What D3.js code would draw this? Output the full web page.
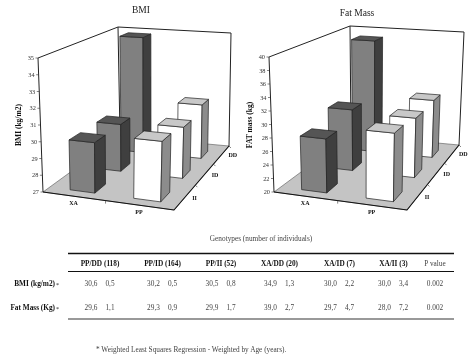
<!DOCTYPE html>
<html>
<head>
<meta charset="utf-8">
<script src="https://cdn.jsdelivr.net/npm/d3@7"></script>
<style>
  html, body { margin: 0; padding: 0; background: #fff; }
  svg { display: block; filter: blur(0.5px); font-family: "Liberation Serif", serif; }
</style>
</head>
<body>
<svg id="chart" width="474" height="358"></svg>
<script>
// Chart data
const columns = ["XA", "PP"];
const rows = ["II", "ID", "DD"];
const bmiXA = [30.0, 30.0, 34.9];
const bmiPP = [30.5, 30.2, 30.6];
const fatXA = [28.0, 29.7, 39.0];
const fatPP = [29.9, 29.3, 29.6];
const bmiTicks = [27, 28, 29, 30, 31, 32, 33, 34, 35];
const fatTicks = [20, 22, 24, 26, 28, 30, 32, 34, 36, 38, 40];

// Table data
const tableHeaders = ["PP/DD (118)", "PP/ID (164)", "PP/II (52)", "XA/DD (20)", "XA/ID (7)", "XA/II (3)"];
const tableRowNames = ["BMI (kg/m2)", "Fat Mass (Kg)"];
const bmiMeans = ["30,6", "30,2", "30,5", "34,9", "30,0", "30,0"];
const bmiErrors = ["0,5", "0,5", "0,8", "1,3", "2,2", "3,4"];
const fatMeans = ["29,6", "29,3", "29,9", "39,0", "29,7", "28,0"];
const fatErrors = ["1,1", "0,9", "1,7", "2,7", "4,7", "7,2"];
const pValues = ["0.002", "0.002"];

const svg = d3.select("#chart");

// Maps the unit square onto a quad: p00 (u0,v0), p10 (u1,v0), p11 (u1,v1), p01 (u0,v1)
function quadMap(p00, p10, p11, p01) {
    const dx1 = p10[0] - p11[0], dx2 = p01[0] - p11[0], sx = p00[0] - p10[0] + p11[0] - p01[0];
    const dy1 = p10[1] - p11[1], dy2 = p01[1] - p11[1], sy = p00[1] - p10[1] + p11[1] - p01[1];
    const det = dx1 * dy2 - dx2 * dy1;
    const g = (sx * dy2 - dx2 * sy) / det;
    const h = (dx1 * sy - sx * dy1) / det;
    const a = p10[0] - p00[0] + g * p10[0], b = p01[0] - p00[0] + h * p01[0], c = p00[0];
    const d = p10[1] - p00[1] + g * p10[1], e = p01[1] - p00[1] + h * p01[1], f = p00[1];
    return (u, v) => {
        const w = g * u + h * v + 1;
        return [(a * u + b * v + c) / w, (d * u + e * v + f) / w];
    };
}

function draw3d(cfg) {
    const g = svg.append("g");
    const floor = quadMap(cfg.floor[0], cfg.floor[1], cfg.floor[2], cfg.floor[3]);
    const roof = quadMap(cfg.roof[0], cfg.roof[1], cfg.roof[2], cfg.roof[3]);
    const yScale = d3.scaleLinear().domain(d3.extent(cfg.ticks)).range([0, 1]);

    // u across, v into the page, value up
    const project = (u, v, value) => {
        const a = floor(u, v), b = roof(u, v), t = yScale(value);
        return [a[0] + (b[0] - a[0]) * t, a[1] + (b[1] - a[1]) * t];
    };
    const base = cfg.ticks[0], top = cfg.ticks[cfg.ticks.length - 1];
    const line = d3.line();
    const poly = pts => line(pts) + "Z";

    // floor and walls
    g.append("path").attr("d", poly([project(0, 0, base), project(1, 0, base), project(1, 1, base), project(0, 1, base)]))
        .attr("fill", "#c4c4c4").attr("stroke", "#555").attr("stroke-width", 0.6);
    g.append("path").attr("d", line([project(0, 0, base), project(0, 0, top), project(0, 1, top), project(1, 1, top), project(1, 1, base)]))
        .attr("fill", "none").attr("stroke", "#222").attr("stroke-width", 1);
    g.append("path").attr("d", line([project(0, 1, top), project(0, 1, base)]))
        .attr("fill", "none").attr("stroke", "#222").attr("stroke-width", 1);
    g.append("path").attr("d", line([project(0, 0, base), project(1, 0, base), project(1, 1, base)]))
        .attr("fill", "none").attr("stroke", "#111").attr("stroke-width", 1.1);

    // value axis
    cfg.ticks.forEach(t => {
        const p = project(0, 0, t);
        g.append("line").attr("x1", p[0] - 2.5).attr("y1", p[1]).attr("x2", p[0]).attr("y2", p[1])
            .attr("stroke", "#333").attr("stroke-width", 0.6);
        g.append("text").attr("x", p[0] - 4).attr("y", p[1] + 2).attr("text-anchor", "end")
            .attr("font-size", 6.3).attr("fill", "#333").text(t);
    });

    // category ticks and labels
    [0.5].forEach(u => {
        const p = project(u, 0, base);
        g.append("line").attr("x1", p[0]).attr("y1", p[1]).attr("x2", p[0]).attr("y2", p[1] + 3).attr("stroke", "#333").attr("stroke-width", 0.6);
    });
    [1 / 3, 2 / 3, 1].forEach(v => {
        const p = project(1, v, base);
        g.append("line").attr("x1", p[0]).attr("y1", p[1]).attr("x2", p[0] + 2).attr("y2", p[1] + 2).attr("stroke", "#333").attr("stroke-width", 0.6);
    });
    const uBand = d3.scaleBand().domain(columns).range([0, 1]);
    const vBand = d3.scaleBand().domain(rows).range([0, 1]);
    columns.forEach(c => {
        const p = project(uBand(c) + uBand.bandwidth() / 2, 0, base);
        g.append("text").attr("x", p[0] + cfg.colLabel[0]).attr("y", p[1] + cfg.colLabel[1]).attr("text-anchor", "middle")
            .attr("font-size", 6).attr("font-weight", "bold").attr("fill", "#111").text(c);
    });
    rows.forEach(r => {
        const p = project(1, vBand(r) + vBand.bandwidth() / 2, base);
        g.append("text").attr("x", p[0] + cfg.rowLabel[0]).attr("y", p[1] + cfg.rowLabel[1])
            .attr("font-size", 6).attr("font-weight", "bold").attr("fill", "#111").text(r);
    });

    // bars, back row first so nearer bars cover them
    const barU = 0.2, barV = 0.13;
    const drawBar = (c, r, value) => {
        const u0 = uBand(c) + (uBand.bandwidth() - barU) / 2 + cfg.shift[0], u1 = u0 + barU;
        const v0 = vBand(r) + (vBand.bandwidth() - barV) / 2 + cfg.shift[1], v1 = v0 + barV;
        const style = c === "XA" ? { front: "#808080", side: "#3f3f3f", top: "#555555" }
                                 : { front: "#ffffff", side: "#8c8c8c", top: "#c8c8c8" };
        const face = (pts, fill) => g.append("path").attr("d", poly(pts)).attr("fill", fill)
            .attr("stroke", "#222").attr("stroke-width", 0.7).attr("stroke-linejoin", "round");
        face([project(u0, v0, base), project(u1, v0, base), project(u1, v0, value), project(u0, v0, value)], style.front);
        face([project(u1, v0, base), project(u1, v1, base), project(u1, v1, value), project(u1, v0, value)], style.side);
        face([project(u0, v0, value), project(u1, v0, value), project(u1, v1, value), project(u0, v1, value)], style.top);
    };
    [2, 1, 0].forEach(i => {
        drawBar("XA", rows[i], cfg.xa[i]);
        drawBar("PP", rows[i], cfg.pp[i]);
    });

    // titles
    g.append("text").attr("x", cfg.titleAt[0]).attr("y", cfg.titleAt[1]).attr("text-anchor", "middle")
        .attr("font-size", 9.5).attr("fill", "#222").text(cfg.title);
    g.append("text").attr("transform", `translate(${cfg.yTitleAt[0]},${cfg.yTitleAt[1]}) rotate(-90)`).attr("text-anchor", "middle")
        .attr("font-size", 7.5).attr("font-weight", "bold").attr("fill", "#111").text(cfg.yTitle);
}

draw3d({
    title: "BMI", titleAt: [141, 13], yTitle: "BMI (kg/m2)", yTitleAt: [21, 125],
    ticks: bmiTicks, xa: bmiXA, pp: bmiPP,
    floor: [[43, 192], [174, 210], [229, 146], [120, 136]],
    roof: [[38, 58], [178, 68], [231, 33], [118, 27]],
    colLabel: [0, 9], rowLabel: [7, 2.5], shift: [0.02, -0.03]
});
draw3d({
    title: "Fat Mass", titleAt: [357, 16], yTitle: "FAT mass (kg)", yTitleAt: [252, 125],
    ticks: fatTicks, xa: fatXA, pp: fatPP,
    floor: [[274, 192], [407, 210], [459, 145], [351, 135]],
    roof: [[269, 57], [410, 68], [464, 32], [350, 26]],
    colLabel: [0, 9], rowLabel: [7, 2.5], shift: [0.02, -0.03]
});

// Table underneath the charts
const table = svg.append("g");
const colX = d3.scaleOrdinal().domain(tableHeaders).range([100, 162.5, 221, 279.5, 339.5, 393.5]);
const gray = "#444";
const fs = 7.3;
table.append("text").attr("x", 261).attr("y", 241).attr("text-anchor", "middle").attr("font-size", fs).attr("fill", gray)
    .text("Genotypes (number of individuals)");
table.append("line").attr("x1", 68).attr("x2", 454).attr("y1", 253.5).attr("y2", 253.5).attr("stroke", "#111").attr("stroke-width", 1.6);
table.append("line").attr("x1", 68).attr("x2", 454).attr("y1", 271.5).attr("y2", 271.5).attr("stroke", "#111").attr("stroke-width", 1.2);
table.append("line").attr("x1", 68).attr("x2", 454).attr("y1", 319).attr("y2", 319).attr("stroke", "#777").attr("stroke-width", 1.3);

tableHeaders.forEach(h => {
    table.append("text").attr("x", colX(h)).attr("y", 265.5).attr("text-anchor", "middle").attr("font-size", fs)
        .attr("font-weight", "bold").attr("fill", "#111").text(h);
});
table.append("text").attr("x", 435).attr("y", 265.5).attr("text-anchor", "middle").attr("font-size", fs).attr("fill", gray).text("P value");

const rowY = d3.scalePoint().domain(tableRowNames).range([286, 310]);
const rowMeans = [bmiMeans, fatMeans], rowErrors = [bmiErrors, fatErrors];
tableRowNames.forEach((name, i) => {
    const label = table.append("text").attr("x", 59).attr("y", rowY(name)).attr("text-anchor", "end")
        .attr("font-size", fs).attr("font-weight", "bold").attr("fill", "#111").text(name);
    label.append("tspan").attr("font-size", 6).attr("dx", 1).attr("dy", 0.5).attr("font-weight", "normal").text("*");
    tableHeaders.forEach((h, j) => {
        table.append("text").attr("x", colX(h) - 9).attr("y", rowY(name)).attr("text-anchor", "middle")
            .attr("font-size", fs).attr("fill", gray).text(rowMeans[i][j]);
        table.append("text").attr("x", colX(h) + 10).attr("y", rowY(name)).attr("text-anchor", "middle")
            .attr("font-size", fs).attr("fill", gray).text(rowErrors[i][j]);
    });
    table.append("text").attr("x", 435).attr("y", rowY(name)).attr("text-anchor", "middle").attr("font-size", fs).attr("fill", gray).text(pValues[i]);
});

table.append("text").attr("x", 96).attr("y", 352).attr("font-size", fs).attr("fill", gray)
    .text("* Weighted Least Squares Regression - Weighted by Age (years).");
</script>
</body>
</html>
